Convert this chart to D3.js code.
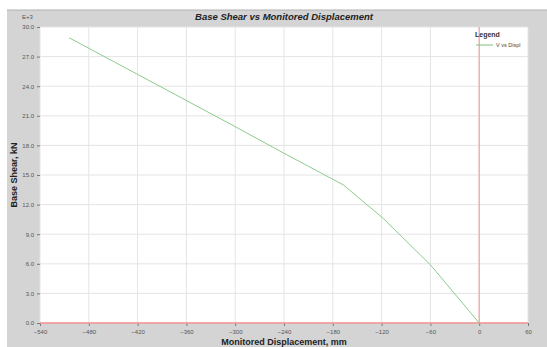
<!DOCTYPE html>
<html>
<head>
<meta charset="utf-8">
<script src="https://cdn.jsdelivr.net/npm/d3@7"></script>
<style>
  body { margin: 0; background: #fff; }
  svg { display: block; font-family: "Liberation Sans", Arial, sans-serif; }
</style>
</head>
<body>
<svg id="chart" width="547" height="347"></svg>
<script>
// displacement (mm) and base shear (E+3 kN)
const displ = [-504, -420, -300, -240, -167, -118, -60, 0];
const shear = [28.9, 25.2, 19.9, 17.2, 14.0, 10.6, 5.9, 0.0];
const xTicks = [-540, -480, -420, -360, -300, -240, -180, -120, -60, 0, 60];
const yTicks = [0, 3, 6, 9, 12, 15, 18, 21, 24, 27, 30];

const svg = d3.select('#chart');

const plot = { left: 40, right: 528, top: 27, bottom: 323 };

// gray frame
svg.append('rect')
  .attr('x', 7).attr('y', 10)
  .attr('width', 540).attr('height', 337)
  .attr('fill', '#d4d4d4');
svg.append('line')
  .attr('x1', 7).attr('x2', 547).attr('y1', 10).attr('y2', 10)
  .attr('stroke', '#b0b0b0');

svg.append('rect')
  .attr('x', plot.left).attr('y', plot.top)
  .attr('width', plot.right - plot.left).attr('height', plot.bottom - plot.top)
  .attr('fill', '#fff');

const x = d3.scaleLinear().domain([-540, 60]).range([plot.left, plot.right]);
const y = d3.scaleLinear().domain([0, 30]).range([plot.bottom, plot.top]);

// grid
svg.append('g')
  .selectAll('line')
  .data(xTicks)
  .enter().append('line')
    .attr('x1', d => x(d)).attr('x2', d => x(d))
    .attr('y1', plot.top).attr('y2', plot.bottom)
    .attr('stroke', '#e4e4e4');

svg.append('g')
  .selectAll('line')
  .data(yTicks)
  .enter().append('line')
    .attr('x1', plot.left).attr('x2', plot.right)
    .attr('y1', d => y(d)).attr('y2', d => y(d))
    .attr('stroke', '#e4e4e4');

// axes
const xAxis = d3.axisBottom(x).tickValues(xTicks).tickSize(3).tickFormat(d3.format('d'));
const yAxis = d3.axisLeft(y).tickValues(yTicks).tickSize(3).tickFormat(d3.format('.1f'));

const gx = svg.append('g')
  .attr('transform', `translate(0, ${plot.bottom})`)
  .call(xAxis);
const gy = svg.append('g')
  .attr('transform', `translate(${plot.left}, 0)`)
  .call(yAxis);

[gx, gy].forEach(g => {
  g.select('.domain').remove();
  g.selectAll('.tick line').attr('stroke', '#777');
  g.selectAll('.tick text')
    .attr('fill', '#555')
    .attr('font-size', 6)
    .attr('font-family', '"Liberation Sans", Arial, sans-serif');
});
gx.selectAll('.tick text').attr('dy', '0.9em');
gy.selectAll('.tick text').attr('x', -6);

// red zero lines
svg.append('line')
  .attr('x1', x(0)).attr('x2', x(0))
  .attr('y1', plot.top).attr('y2', plot.bottom)
  .attr('stroke', '#f4a0a0').attr('stroke-width', 1.2);
svg.append('line')
  .attr('x1', plot.left).attr('x2', plot.right)
  .attr('y1', y(0)).attr('y2', y(0))
  .attr('stroke', '#f09090').attr('stroke-width', 1.4);

// curve
const pts = displ.map((d, i) => [d, shear[i]]);
svg.append('path')
  .datum(pts)
  .attr('fill', 'none')
  .attr('stroke', '#8ccc8c')
  .attr('stroke-width', 1)
  .attr('d', d3.line().x(d => x(d[0])).y(d => y(d[1])));

// texts
svg.append('text')
  .attr('x', (plot.left + plot.right) / 2).attr('y', 20)
  .attr('text-anchor', 'middle')
  .attr('font-size', 9.5).attr('font-weight', 'bold').attr('font-style', 'italic')
  .attr('fill', '#222')
  .text('Base Shear vs Monitored Displacement');

svg.append('text')
  .attr('x', 22).attr('y', 19)
  .attr('font-size', 6).attr('fill', '#555')
  .text('E+3');

svg.append('text')
  .attr('transform', `translate(17, ${(plot.top + plot.bottom) / 2}) rotate(-90)`)
  .attr('text-anchor', 'middle')
  .attr('font-size', 9).attr('font-weight', 'bold').attr('fill', '#222')
  .text('Base Shear, kN');

svg.append('text')
  .attr('x', (plot.left + plot.right) / 2).attr('y', 345)
  .attr('text-anchor', 'middle')
  .attr('font-size', 9).attr('font-weight', 'bold').attr('fill', '#222')
  .text('Monitored Displacement, mm');

// legend
svg.append('text')
  .attr('x', 475).attr('y', 37)
  .attr('font-size', 7).attr('font-weight', 'bold').attr('fill', '#333')
  .text('Legend');
svg.append('line')
  .attr('x1', 476).attr('x2', 493).attr('y1', 45).attr('y2', 45)
  .attr('stroke', '#7cc47c');
svg.append('text')
  .attr('x', 496).attr('y', 47)
  .attr('font-size', 5.5).attr('fill', '#444')
  .text('V vs Displ');
</script>
</body>
</html>
